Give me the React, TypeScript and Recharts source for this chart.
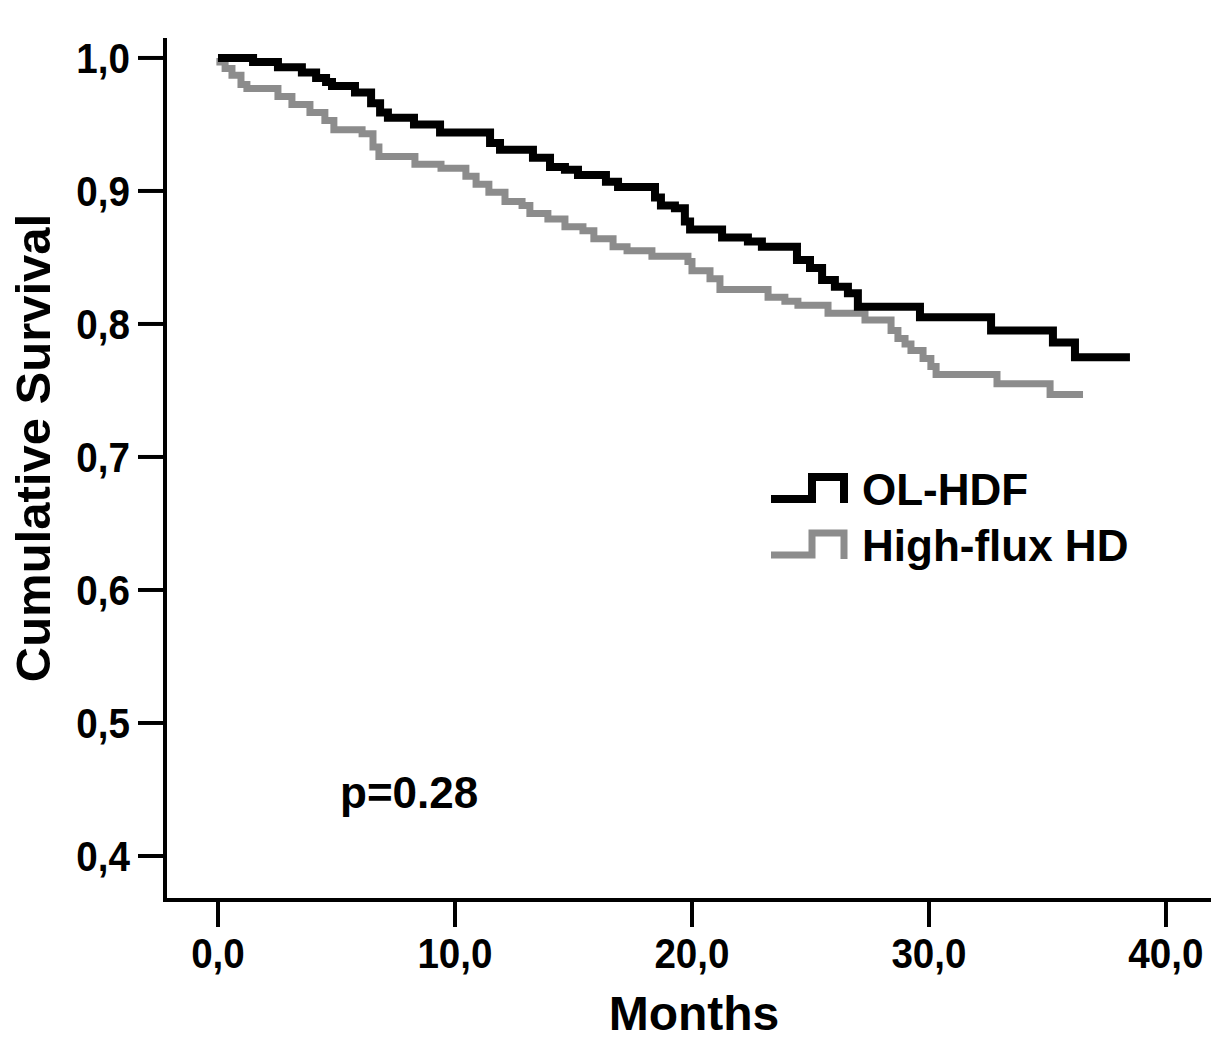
import React from 'react';
import { LineChart, Line, XAxis, YAxis, Legend, ReferenceDot } from 'recharts';

// OL-HDF (black) Kaplan-Meier steps
const olHdfMonths = [0, 1.48, 2.53, 3.54, 4.14, 4.56, 4.81, 5.78, 6.46, 6.84, 7.17, 8.27, 9.37, 11.48, 11.9, 13.29, 14.01, 14.64, 15.19, 16.37, 16.88, 18.44, 18.69, 19.28, 19.7, 19.92, 21.27, 22.36, 22.95, 24.43, 24.98, 25.49, 26.03, 26.58, 27.0, 29.62, 32.62, 35.23, 36.16, 38.48];
const olHdfSurvival = [1.0, 0.997, 0.993, 0.989, 0.985, 0.982, 0.979, 0.974, 0.966, 0.959, 0.955, 0.95, 0.944, 0.936, 0.931, 0.925, 0.918, 0.916, 0.912, 0.907, 0.903, 0.895, 0.889, 0.887, 0.877, 0.871, 0.865, 0.862, 0.858, 0.848, 0.842, 0.833, 0.828, 0.823, 0.813, 0.805, 0.795, 0.786, 0.775, 0.775];

// High-flux HD (gray) Kaplan-Meier steps
const hfHdMonths = [0, 0.08, 0.3, 0.59, 0.97, 1.22, 2.53, 3.12, 3.88, 4.51, 4.89, 6.08, 6.54, 6.79, 8.31, 9.41, 10.46, 10.89, 11.43, 12.11, 12.83, 13.16, 13.92, 14.64, 15.4, 15.86, 16.67, 17.26, 18.31, 19.83, 20.0, 20.76, 21.18, 23.21, 23.92, 24.47, 25.74, 27.3, 28.4, 28.69, 28.99, 29.24, 29.75, 30.08, 30.3, 32.87, 35.11, 36.5];
const hfHdSurvival = [1.0, 0.997, 0.992, 0.987, 0.98, 0.977, 0.971, 0.965, 0.959, 0.953, 0.946, 0.943, 0.933, 0.926, 0.92, 0.917, 0.911, 0.905, 0.899, 0.892, 0.889, 0.883, 0.879, 0.873, 0.87, 0.864, 0.858, 0.855, 0.851, 0.847, 0.84, 0.834, 0.826, 0.82, 0.817, 0.814, 0.808, 0.803, 0.795, 0.789, 0.785, 0.78, 0.774, 0.768, 0.762, 0.755, 0.747, 0.747];

const xTicks = [0, 10, 20, 30, 40];
const yTicks = [0.4, 0.5, 0.6, 0.7, 0.8, 0.9, 1.0];
const seriesNames = ['OL-HDF', 'High-flux HD'];
const seriesColors = ['#000000', '#8c8c8c'];
const xTitle = 'Months';
const yTitle = 'Cumulative Survival';
const pValueText = 'p=0.28';
const pValuePos = { t: 5.15, s: 0.436 };

const olData = olHdfMonths.map((t, i) => ({ t, s: olHdfSurvival[i] }));
const hfData = hfHdMonths.map((t, i) => ({ t, s: hfHdSurvival[i] }));

const FONT = '"Liberation Sans", Arial, Helvetica, sans-serif';
const fmt = (v: number) => v.toFixed(1).replace('.', ',');

const XTick = (props: any) => {
  const { x, y, payload } = props;
  return (
    <text
      transform={`translate(${x},${y + 41}) scale(0.92,1)`}
      textAnchor="middle"
      fontFamily={FONT}
      fontWeight="bold"
      fontSize={42}
      fill="#000"
    >
      {fmt(payload.value)}
    </text>
  );
};

const YTick = (props: any) => {
  const { x, y, payload } = props;
  return (
    <text
      transform={`translate(${x},${y + 15}) scale(0.92,1)`}
      textAnchor="end"
      fontFamily={FONT}
      fontWeight="bold"
      fontSize={42}
      fill="#000"
    >
      {fmt(payload.value)}
    </text>
  );
};

const renderLegend = (props: any) => {
  const payload = props.payload || [];
  const items = seriesNames.map((name) => {
    const p = payload.find((q: any) => q.value === name);
    return { name, color: p ? p.color : '#000' };
  });
  return (
    <svg width={440} height={110} style={{ display: 'block' }}>
      {items.map((it, i) => {
        const dy = i * 56;
        const sw = i === 0 ? 8 : 7;
        return (
          <g key={it.name}>
            <path
              d={`M6 ${34 + dy} H47 V${12 + dy} H79 V${38 + dy}`}
              fill="none"
              stroke={it.color}
              strokeWidth={sw}
              strokeLinejoin="miter"
            />
            <text x={97} y={40 + dy} fontFamily={FONT} fontWeight="bold" fontSize={44} fill="#000">
              {it.name}
            </text>
          </g>
        );
      })}
    </svg>
  );
};

export default function App() {
  return (
    <div style={{ position: 'absolute', left: 0, top: 0, background: '#fff' }}>
      <LineChart width={1211} height={1039} margin={{ top: 40, right: 0, bottom: 0, left: 0 }}>
        <XAxis
          type="number"
          dataKey="t"
          domain={[-2.236, 41.9]}
          allowDataOverflow
          ticks={xTicks}
          height={139}
          tickSize={27}
          tickMargin={0}
          tick={<XTick />}
          axisLine={{ stroke: '#000', strokeWidth: 4, strokeLinecap: 'square' }}
          tickLine={{ stroke: '#000', strokeWidth: 4 }}
          label={{
            value: xTitle,
            content: (p: any) => {
              const vb = p.viewBox || { x: 165, y: 900, width: 1046, height: 139 };
              return (
                <text
                  x={vb.x + vb.width / 2 + 6}
                  y={vb.y + 130}
                  textAnchor="middle"
                  fontFamily={FONT}
                  fontWeight="bold"
                  fontSize={48}
                  fill="#000"
                >
                  {xTitle}
                </text>
              );
            },
          }}
        />
        <YAxis
          type="number"
          dataKey="s"
          domain={[0.3669, 1.0135]}
          allowDataOverflow
          ticks={yTicks}
          width={165}
          tickSize={27}
          tickMargin={8}
          tick={<YTick />}
          axisLine={{ stroke: '#000', strokeWidth: 4, strokeLinecap: 'square' }}
          tickLine={{ stroke: '#000', strokeWidth: 4 }}
          label={{
            value: yTitle,
            content: (p: any) => {
              const vb = p.viewBox || { x: 0, y: 40, width: 165, height: 860 };
              const cy = vb.y + vb.height / 2 - 22;
              return (
                <text
                  transform={`translate(${vb.x + 50},${cy}) rotate(-90)`}
                  textAnchor="middle"
                  fontFamily={FONT}
                  fontWeight="bold"
                  fontSize={49}
                  fill="#000"
                >
                  {yTitle}
                </text>
              );
            },
          }}
        />
        <Line
          data={hfData}
          dataKey="s"
          name={seriesNames[1]}
          type="stepAfter"
          stroke={seriesColors[1]}
          strokeWidth={7}
          dot={false}
          activeDot={false}
          isAnimationActive={false}
          strokeLinejoin="miter"
          strokeLinecap="butt"
        />
        <Line
          data={olData}
          dataKey="s"
          name={seriesNames[0]}
          type="stepAfter"
          stroke={seriesColors[0]}
          strokeWidth={8}
          dot={false}
          activeDot={false}
          isAnimationActive={false}
          strokeLinejoin="miter"
          strokeLinecap="butt"
        />
        <ReferenceDot
          x={pValuePos.t}
          y={pValuePos.s}
          r={0}
          fill="none"
          stroke="none"
          label={{
            value: pValueText,
            content: (p: any) => {
              const vb = p.viewBox || { x: 340, y: 808 };
              return (
                <text x={vb.x} y={vb.y} fontFamily={FONT} fontWeight="bold" fontSize={44} fill="#000">
                  {pValueText}
                </text>
              );
            },
          }}
        />
        <Legend
          layout="vertical"
          align="center"
          verticalAlign="middle"
          content={renderLegend}
          wrapperStyle={{ position: 'absolute', left: 765, top: 465, width: 440, height: 110 }}
        />
      </LineChart>
    </div>
  );
}
